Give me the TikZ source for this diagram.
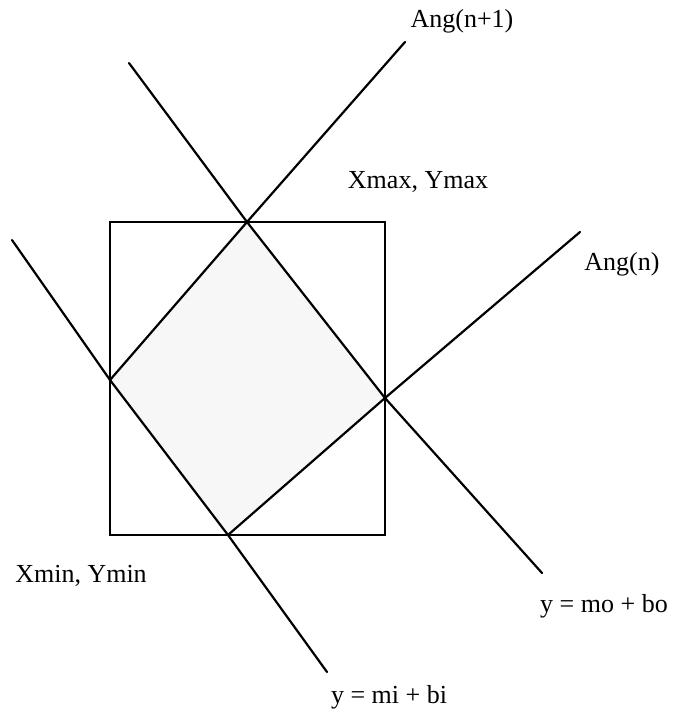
\documentclass[tikz,border=0pt]{standalone}
\usepackage{fontspec}
\setmainfont{Liberation Serif}
\begin{document}
\begin{tikzpicture}[x=0.5pt,y=-0.5pt,
  ln/.style={line width=1.1pt,line cap=round,line join=round},
  box/.style={line width=0.7pt},
  lbl/.style={inner sep=0pt,font=\fontsize{13}{15}\selectfont}]
\useasboundingbox (0,0) rectangle (680,724);
% key points
\coordinate (T) at (247,222);
\coordinate (L) at (110,380);
\coordinate (R) at (385,398);
\coordinate (B) at (228,535);
\coordinate (Cs) at (129,63);
\coordinate (Ce) at (542,573);
\coordinate (Ds) at (12,240);
\coordinate (De) at (327,672);
\coordinate (Ae) at (405,42);
\coordinate (Be) at (580,232);
% faint shading of the diamond
\fill[black!3] (T) -- (R) -- (B) -- (L) -- cycle;
% square
\draw[box] (110,222) rectangle (385,535);
% lines
\draw[ln] (L) -- (T) -- (Ae);
\draw[ln] (B) -- (R) -- (Be);
\draw[ln] (Cs) -- (T) -- (R) -- (Ce);
\draw[ln] (Ds) -- (L) -- (B) -- (De);
% labels
\node[lbl] (angn1) at (462,21) {Ang(n+1)};
\node[lbl] (xmax) at (418,182) {Xmax, Ymax};
\node[lbl] (angn) at (622,264) {Ang(n)};
\node[lbl] (xmin) at (81,576) {Xmin, Ymin};
\node[lbl] (ymo) at (604,606) {y = mo + bo};
\node[lbl] (ymi) at (389,697) {y = mi + bi};
\end{tikzpicture}
\end{document}
